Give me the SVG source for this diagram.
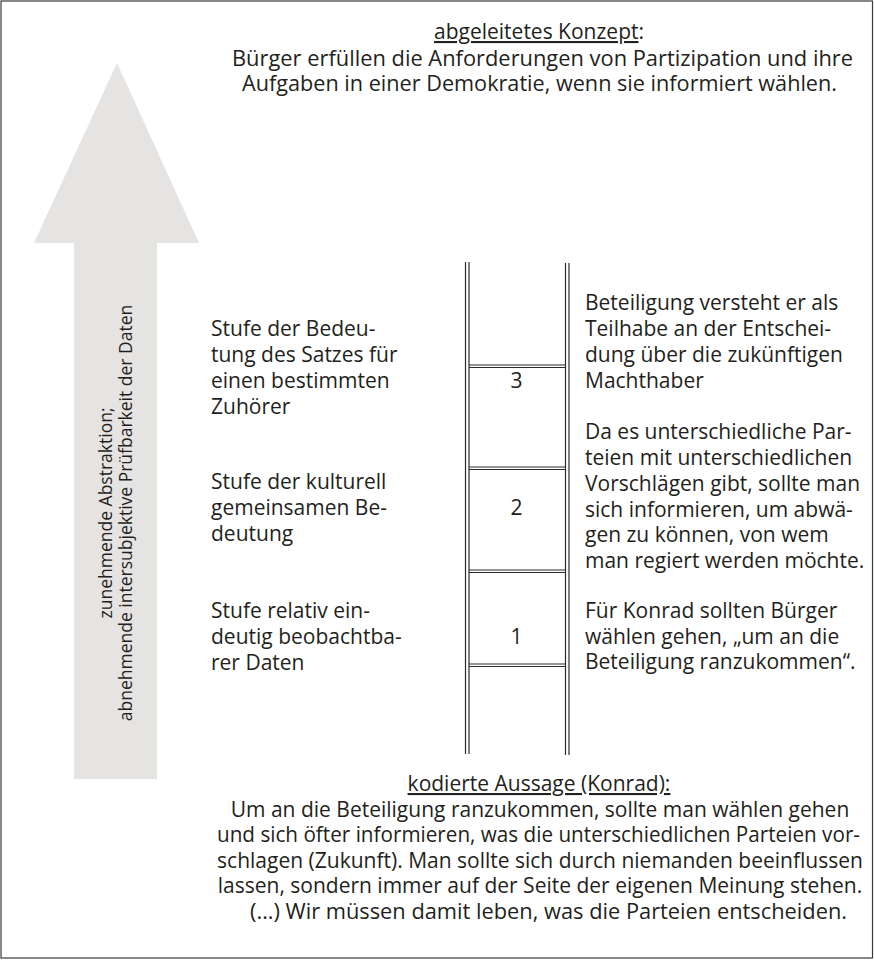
<svg xmlns="http://www.w3.org/2000/svg" width="874" height="960" viewBox="0 0 874 960">
<style>
  .t { font-family: "Open Sans", "Liberation Sans", sans-serif; font-size: 21px; fill: #231f20; }
  .c { text-anchor: middle; }
  .rot { font-family: "Open Sans", "Liberation Sans", sans-serif; font-size: 17.5px; fill: #231f20; text-anchor: middle; }
  .u { text-decoration: underline; }
  .rail { stroke: #2b2b2b; stroke-width: 1.2; fill: none; }
</style>
<rect x="1" y="1" width="871.5" height="957" fill="#ffffff" stroke="#3a3a3a" stroke-width="1.2"/>

<g id="arrow">
  <polygon points="117,63 199,243 157,243 157,779 74,779 74,243 34,243" fill="#e6e3e3"/>
  <g transform="translate(0,513) rotate(-90)">
    <text class="rot" x="0" y="112">zunehmende Abstraktion;</text>
    <text class="rot" x="0" y="131.5">abnehmende intersubjektive Prüfbarkeit der Daten</text>
  </g>
</g>

<g id="concept">
  <text class="t c" x="539" y="39"><tspan class="u">abgeleitetes Konzept</tspan>:</text>
  <text class="t c" x="542.5" y="65.5" textLength="621" lengthAdjust="spacingAndGlyphs">Bürger erfüllen die Anforderungen von Partizipation und ihre</text>
  <text class="t c" x="539.5" y="91.3" textLength="595" lengthAdjust="spacingAndGlyphs">Aufgaben in einer Demokratie, wenn sie informiert wählen.</text>
</g>

<g id="ladder">
  <line class="rail" x1="465.5" y1="262" x2="465.5" y2="754"/>
  <line class="rail" x1="469" y1="262" x2="469" y2="754"/>
  <line class="rail" x1="565.5" y1="263" x2="565.5" y2="755"/>
  <line class="rail" x1="569" y1="263" x2="569" y2="755"/>
  <line class="rail" x1="469" y1="365" x2="565.5" y2="365"/>
  <line class="rail" x1="469" y1="367.5" x2="565.5" y2="367.5"/>
  <line class="rail" x1="469" y1="467" x2="565.5" y2="467"/>
  <line class="rail" x1="469" y1="469.5" x2="565.5" y2="469.5"/>
  <line class="rail" x1="469" y1="570" x2="565.5" y2="570"/>
  <line class="rail" x1="469" y1="572.5" x2="565.5" y2="572.5"/>
  <line class="rail" x1="469" y1="664" x2="565.5" y2="664"/>
  <line class="rail" x1="469" y1="666.5" x2="565.5" y2="666.5"/>
  <text class="t c" x="516.5" y="387.5">3</text>
  <text class="t c" x="516.5" y="515">2</text>
  <text class="t c" x="516.5" y="644">1</text>
</g>

<g id="level3">
  <text class="t" x="211" y="336">Stufe der Bedeu-</text>
  <text class="t" x="211" y="362">tung des Satzes für</text>
  <text class="t" x="211" y="388">einen bestimmten</text>
  <text class="t" x="211" y="414">Zuhörer</text>
</g>
<g id="level2">
  <text class="t" x="211" y="489">Stufe der kulturell</text>
  <text class="t" x="211" y="515">gemeinsamen Be-</text>
  <text class="t" x="211" y="541">deutung</text>
</g>
<g id="level1">
  <text class="t" x="211" y="618">Stufe relativ ein-</text>
  <text class="t" x="211" y="644">deutig beobachtba-</text>
  <text class="t" x="211" y="670">rer Daten</text>
</g>

<g id="statement3">
  <text class="t" x="585" y="310">Beteiligung versteht er als</text>
  <text class="t" x="585" y="336">Teilhabe an der Entschei-</text>
  <text class="t" x="585" y="362">dung über die zukünftigen</text>
  <text class="t" x="585" y="388">Machthaber</text>
</g>
<g id="statement2">
  <text class="t" x="585" y="439">Da es unterschiedliche Par-</text>
  <text class="t" x="585" y="465">teien mit unterschiedlichen</text>
  <text class="t" x="585" y="491">Vorschlägen gibt, sollte man</text>
  <text class="t" x="585" y="516.6">sich informieren, um abwä-</text>
  <text class="t" x="585" y="542.3">gen zu können, von wem</text>
  <text class="t" x="585" y="568">man regiert werden möchte.</text>
</g>
<g id="statement1">
  <text class="t" x="585" y="618">Für Konrad sollten Bürger</text>
  <text class="t" x="585" y="643.7">wählen gehen, „um an die</text>
  <text class="t" x="585" y="669.4">Beteiligung ranzukommen“.</text>
</g>

<g id="coded">
  <text class="t c" x="539" y="791"><tspan class="u">kodierte Aussage (Konrad):</tspan></text>
  <text class="t c" x="540" y="816.5">Um an die Beteiligung ranzukommen, sollte man wählen gehen</text>
  <text class="t c" x="538.5" y="842" textLength="643" lengthAdjust="spacingAndGlyphs">und sich öfter informieren, was die unterschiedlichen Parteien vor-</text>
  <text class="t c" x="540" y="867.5">schlagen (Zukunft). Man sollte sich durch niemanden beeinflussen</text>
  <text class="t c" x="540" y="893">lassen, sondern immer auf der Seite der eigenen Meinung stehen.</text>
  <text class="t c" x="548.5" y="918.5" textLength="597" lengthAdjust="spacingAndGlyphs">(…) Wir müssen damit leben, was die Parteien entscheiden.</text>
</g>
</svg>
